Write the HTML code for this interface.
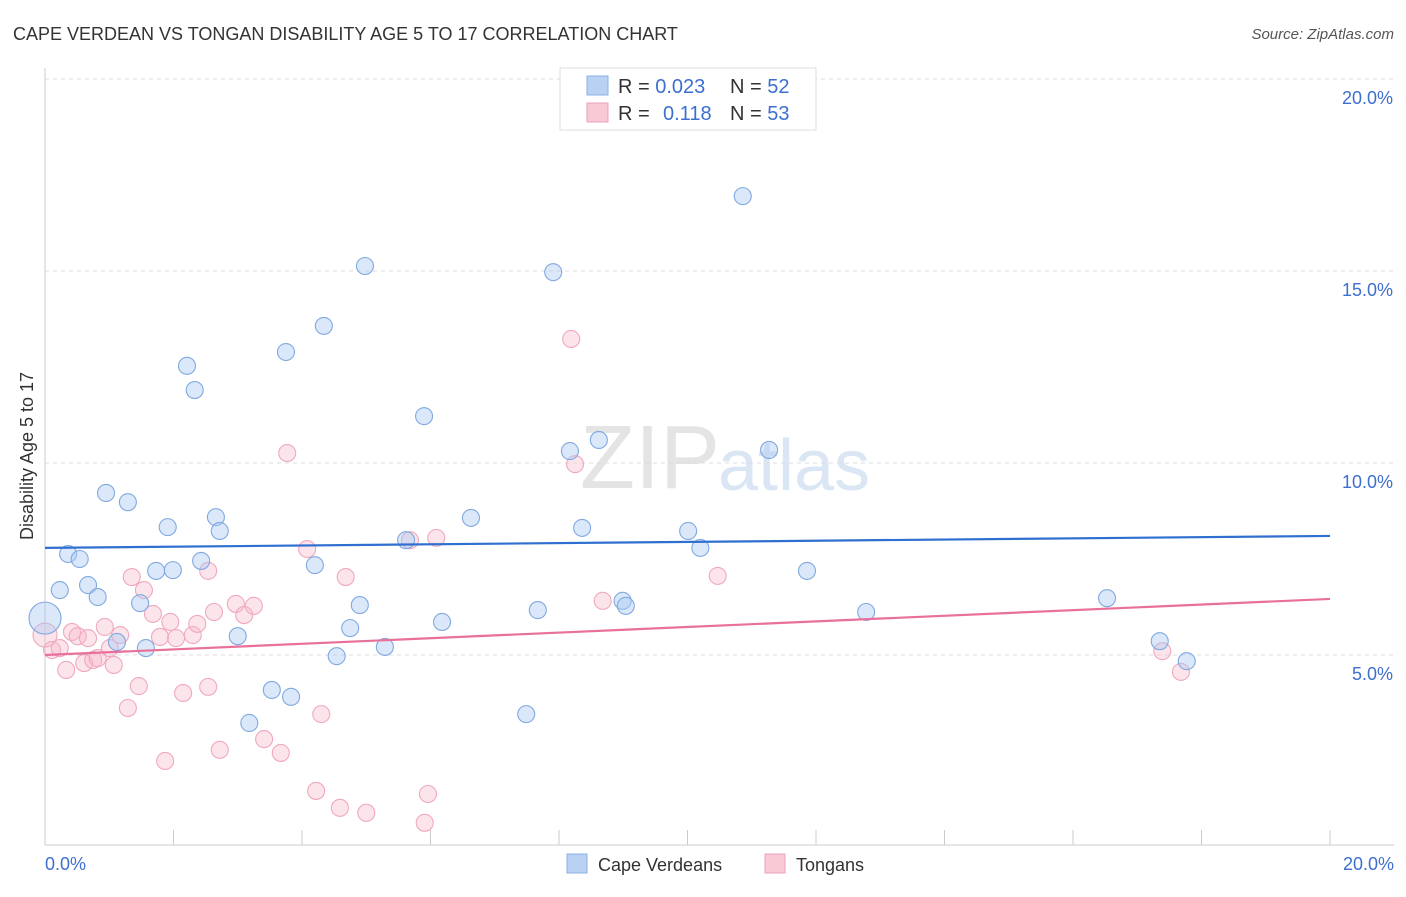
<!DOCTYPE html>
<html><head><meta charset="utf-8"><style>
body{margin:0;background:#fff;font-family:"Liberation Sans",sans-serif;}
svg text{font-family:"Liberation Sans",sans-serif;}
</style></head><body>
<svg id="chart" width="1406" height="892">
<text x="13" y="40" font-size="18" fill="#333">CAPE VERDEAN VS TONGAN DISABILITY AGE 5 TO 17 CORRELATION CHART</text>
<text x="1394" y="39" font-size="15" fill="#555" font-style="italic" text-anchor="end">Source: ZipAtlas.com</text>
<text x="720" y="488" font-size="90" fill="#e4e4e4" text-anchor="end" font-family="Liberation Serif">ZIP</text>
<text x="718" y="490" font-size="72" fill="#dbe6f5">atlas</text>
<text transform="translate(33,456) rotate(-90)" font-size="18" fill="#333" text-anchor="middle">Disability Age 5 to 17</text>
<g id="grid"></g><g id="ticks"></g><g id="lines"></g><g id="pts"></g>
<g>
<rect x="560" y="68" width="256" height="62" fill="#fff" stroke="#ddd"/>
<rect x="587" y="76" width="21" height="19" fill="#b9d2f3" stroke="#8ab0e6"/>
<rect x="587" y="103" width="21" height="19" fill="#f9c9d6" stroke="#eea0b8"/>
<text x="618" y="93" font-size="20" fill="#333">R = <tspan fill="#3d6fd0">0.023</tspan></text>
<text x="730" y="93" font-size="20" fill="#333">N = <tspan fill="#3d6fd0">52</tspan></text>
<text x="618" y="120" font-size="20" fill="#333">R = </text><text x="663" y="120" font-size="20" fill="#3d6fd0">0.118</text>
<text x="730" y="120" font-size="20" fill="#333">N = <tspan fill="#3d6fd0">53</tspan></text>
</g>
<g>
<rect x="567" y="854" width="20" height="19" fill="#b9d2f3" stroke="#8ab0e6"/>
<text x="598" y="871" font-size="18" fill="#333">Cape Verdeans</text>
<rect x="765" y="854" width="20" height="19" fill="#f9c9d6" stroke="#eea0b8"/>
<text x="796" y="871" font-size="18" fill="#333">Tongans</text>
</g>
<text x="45" y="870" font-size="18" fill="#3d6fd0">0.0%</text>
<text x="1394" y="870" font-size="18" fill="#3d6fd0" text-anchor="end">20.0%</text>
</svg>
<script>
const yTicks=[5,10,15,20];
const yTickLabels=["5.0%","10.0%","15.0%","20.0%"];
const blueX=[0,0.23,0.36,0.54,0.67,0.82,0.95,1.12,1.29,1.48,1.57,1.73,1.91,1.99,2.21,2.33,2.43,2.66,2.72,3.0,3.18,3.53,3.75,3.83,4.2,4.34,4.54,4.75,4.9,4.98,5.29,5.62,5.9,6.18,6.63,7.49,7.67,7.91,8.17,8.36,8.62,8.99,9.04,10.01,10.2,10.86,11.27,11.86,12.78,16.53,17.35,17.77];
const blueY=[5.96,6.69,7.63,7.5,6.82,6.51,9.22,5.34,8.98,6.35,5.18,7.19,8.33,7.21,12.53,11.9,7.45,8.59,8.23,5.49,3.23,4.09,12.89,3.91,7.34,13.57,4.97,5.7,6.3,15.13,5.21,7.99,11.22,5.86,8.57,3.46,6.17,14.97,10.31,8.31,10.6,6.41,6.28,8.23,7.79,16.95,10.34,7.19,6.12,6.48,5.36,4.84];
const pinkX=[0,0.11,0.23,0.33,0.42,0.51,0.61,0.67,0.75,0.82,0.93,1.01,1.07,1.17,1.29,1.35,1.46,1.54,1.68,1.87,1.79,1.95,2.04,2.15,2.3,2.37,2.54,2.54,2.63,2.72,2.97,3.1,3.25,3.41,3.67,3.77,4.08,4.22,4.3,4.59,4.68,5.0,5.68,5.96,5.91,6.09,8.19,8.25,8.68,10.47,17.39,17.68];
const pinkY=[5.52,5.13,5.18,4.61,5.6,5.49,4.79,5.44,4.87,4.92,5.73,5.18,4.74,5.52,3.62,7.03,4.19,6.69,6.07,2.24,5.47,5.86,5.44,4.01,5.52,5.81,7.19,4.17,6.12,2.53,6.33,6.04,6.28,2.81,2.45,10.26,7.76,1.46,3.46,1.02,7.03,0.89,7.99,1.38,0.63,8.05,13.23,9.97,6.41,7.06,5.1,4.56];
const blueTrend=[7.79,8.1];
const pinkTrend=[5.0,6.46];
const X=v=>45+v/20*1285, Y=v=>847-v*38.4;
const NS="http://www.w3.org/2000/svg";
function mk(t,a,p){const e=document.createElementNS(NS,t);for(const k in a)e.setAttribute(k,a[k]);p.appendChild(e);return e;}
const grid=document.getElementById('grid'),ticks=document.getElementById('ticks');
yTicks.forEach((v,i)=>{
 const l=mk('line',{x1:45,x2:1394,y1:Y(v),y2:Y(v),stroke:'#ddd','stroke-dasharray':'4,4'},grid);
 
 
 const t=mk('text',{x:1393,y:Y(v)+25,'font-size':18,fill:'#3d6fd0','text-anchor':'end'},ticks);
 t.textContent=yTickLabels[i];
 
 
});
const ax=mk('line',{x1:45,x2:45,y1:68,y2:845,stroke:'#ccc'},ticks);


const bx=mk('line',{x1:45,x2:1394,y1:845,y2:845,stroke:'#ccc'},ticks);


for(let i=0;i<=10;i++){const t=mk('line',{x1:X(i*2),x2:X(i*2),y1:830,y2:845,stroke:'#ccc'},ticks);
 
 }
const pts=document.getElementById('pts');
function dots(xs,ys,fill,stroke,name){xs.forEach((x,i)=>{
 const c=mk('circle',{cx:X(x),cy:Y(ys[i]),r:i==0?(name=='blue-point'?16:12):8.5,fill:fill,stroke:stroke,'stroke-width':1.1},pts);
 
 });}
dots(pinkX,pinkY,'rgba(246,184,202,0.38)','#f0a8be','pink-point');
dots(blueX,blueY,'rgba(168,200,242,0.42)','#80a9e0','blue-point');
const bl=mk('line',{x1:X(0),x2:X(20),y1:Y(blueTrend[0]),y2:Y(blueTrend[1]),stroke:'#2f6fd0','stroke-width':2.2},pts);


const pl=mk('line',{x1:X(0),x2:X(20),y1:Y(pinkTrend[0]),y2:Y(pinkTrend[1]),stroke:'#e8709a','stroke-width':2.2},pts);


</script>
</body></html>
